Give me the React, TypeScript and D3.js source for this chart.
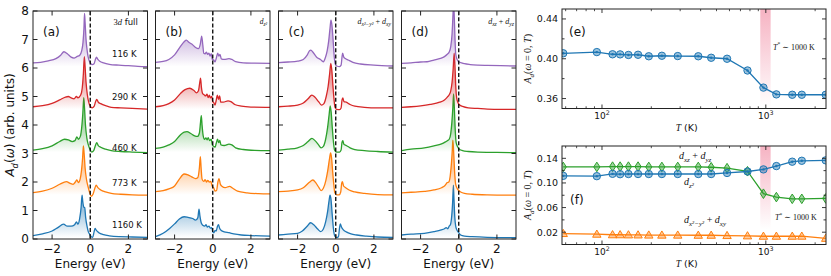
import React from 'react';
import * as d3 from 'd3';

type Pt = [number, number];

const tempLabels = ['1160 K', '773 K', '460 K', '290 K', '116 K'];
const curveColors = ['#1f77b4', '#ff7f0e', '#2ca02c', '#d62728', '#9467bd'];
const curveOffsets = [0, 1.5, 3, 4.5, 6];
const energyTicks = [-2, 0, 2];
const intensityTicks = [0, 1, 2, 3, 4, 5, 6, 7, 8];

// (a) 3d full
const full1160: Pt[] = [[-3, 0.12], [-2.5, 0.18], [-2.0, 0.28], [-1.7, 0.4], [-1.4, 0.52], [-1.2, 0.45], [-1.0, 0.45], [-0.82, 0.5], [-0.72, 0.6], [-0.65, 0.52], [-0.56, 0.7], [-0.48, 1.1], [-0.43, 1.54], [-0.39, 1.3], [-0.34, 1.12], [-0.29, 1.1], [-0.24, 0.75], [-0.17, 0.45], [-0.1, 0.25], [-0.04, 0.18], [0.05, 0.08], [0.13, 0.06], [0.2, 0.25], [0.25, 0.37], [0.32, 0.3], [0.45, 0.22], [0.7, 0.15], [1.0, 0.11], [1.5, 0.08], [2.2, 0.07], [3.0, 0.06]];
const full773: Pt[] = [[-3, 0.13], [-2.5, 0.18], [-2.0, 0.28], [-1.6, 0.42], [-1.25, 0.51], [-1.05, 0.45], [-0.9, 0.42], [-0.78, 0.5], [-0.7, 0.57], [-0.62, 0.48], [-0.53, 0.6], [-0.46, 0.9], [-0.4, 1.35], [-0.36, 1.77], [-0.32, 1.5], [-0.27, 1.0], [-0.2, 0.6], [-0.12, 0.35], [-0.04, 0.15], [0.05, 0.0], [0.15, 0.08], [0.25, 0.3], [0.31, 0.39], [0.4, 0.3], [0.55, 0.22], [0.8, 0.15], [1.1, 0.1], [1.6, 0.07], [2.2, 0.05], [3.0, 0.04]];
const full460: Pt[] = [[-3, 0.12], [-2.5, 0.17], [-2.0, 0.27], [-1.6, 0.42], [-1.35, 0.5], [-1.15, 0.48], [-0.95, 0.42], [-0.8, 0.45], [-0.7, 0.58], [-0.62, 0.5], [-0.52, 0.6], [-0.45, 0.9], [-0.39, 1.4], [-0.34, 1.96], [-0.3, 1.6], [-0.25, 1.0], [-0.18, 0.55], [-0.1, 0.3], [-0.02, 0.15], [0.08, 0.05], [0.18, 0.1], [0.28, 0.3], [0.34, 0.38], [0.42, 0.28], [0.55, 0.22], [0.8, 0.15], [1.1, 0.1], [1.6, 0.07], [2.2, 0.05], [3.0, 0.03]];
const full290: Pt[] = [[-3, 0.14], [-2.5, 0.18], [-2.0, 0.26], [-1.6, 0.38], [-1.3, 0.48], [-1.15, 0.5], [-1.0, 0.45], [-0.85, 0.42], [-0.72, 0.5], [-0.65, 0.45], [-0.5, 0.55], [-0.42, 0.8], [-0.36, 1.3], [-0.31, 1.9], [-0.27, 1.55], [-0.22, 1.0], [-0.15, 0.55], [-0.08, 0.3], [0.0, 0.15], [0.1, 0.1], [0.2, 0.15], [0.28, 0.32], [0.34, 0.4], [0.42, 0.3], [0.55, 0.25], [0.8, 0.18], [1.1, 0.12], [1.6, 0.1], [2.2, 0.08], [3.0, 0.06]];
const full116: Pt[] = [[-3, 0.18], [-2.6, 0.2], [-2.2, 0.25], [-1.8, 0.33], [-1.55, 0.45], [-1.38, 0.57], [-1.2, 0.5], [-1.0, 0.38], [-0.85, 0.35], [-0.7, 0.4], [-0.55, 0.45], [-0.45, 0.6], [-0.38, 0.9], [-0.33, 1.4], [-0.3, 1.92], [-0.27, 1.6], [-0.22, 1.0], [-0.15, 0.55], [-0.08, 0.3], [0.0, 0.18], [0.1, 0.12], [0.2, 0.15], [0.27, 0.3], [0.33, 0.38], [0.4, 0.3], [0.5, 0.24], [0.7, 0.18], [1.0, 0.13], [1.5, 0.1], [2.0, 0.08], [2.5, 0.06], [3.0, 0.05]];

// (b) d_z2
const z2_1160: Pt[] = [[-3, 0.08], [-2.6, 0.2], [-2.26, 0.37], [-2.0, 0.53], [-1.75, 0.7], [-1.5, 0.78], [-1.3, 0.76], [-1.05, 0.72], [-0.9, 0.66], [-0.78, 0.75], [-0.72, 1.05], [-0.67, 0.8], [-0.6, 0.56], [-0.52, 0.48], [-0.42, 0.45], [-0.35, 0.5], [-0.28, 0.42], [-0.2, 0.45], [-0.12, 0.38], [-0.05, 0.4], [0.0, 0.25], [0.06, 0.22], [0.12, 0.3], [0.18, 0.28], [0.25, 0.45], [0.3, 0.5], [0.36, 0.38], [0.45, 0.3], [0.6, 0.25], [0.85, 0.22], [1.1, 0.18], [1.5, 0.14], [2.0, 0.12], [3.0, 0.1]];
const z2_773: Pt[] = [[-3, 0.16], [-2.6, 0.2], [-2.3, 0.26], [-2.0, 0.36], [-1.75, 0.6], [-1.5, 0.78], [-1.3, 0.75], [-1.1, 0.68], [-0.9, 0.62], [-0.78, 0.66], [-0.7, 1.0], [-0.65, 1.39], [-0.61, 1.0], [-0.56, 0.6], [-0.48, 0.52], [-0.4, 0.58], [-0.33, 0.5], [-0.26, 0.56], [-0.18, 0.5], [-0.1, 0.52], [-0.03, 0.35], [0.05, 0.3], [0.12, 0.18], [0.2, 0.2], [0.27, 0.5], [0.33, 0.62], [0.4, 0.42], [0.48, 0.35], [0.65, 0.3], [0.88, 0.35], [1.05, 0.28], [1.3, 0.18], [1.8, 0.12], [2.4, 0.09], [3.0, 0.08]];
const z2_460: Pt[] = [[-3, 0.18], [-2.6, 0.22], [-2.3, 0.3], [-2.0, 0.42], [-1.7, 0.65], [-1.5, 0.75], [-1.35, 0.77], [-1.15, 0.7], [-0.95, 0.62], [-0.8, 0.6], [-0.7, 0.72], [-0.64, 1.1], [-0.6, 1.33], [-0.56, 1.0], [-0.5, 0.62], [-0.43, 0.5], [-0.36, 0.55], [-0.3, 0.48], [-0.24, 0.56], [-0.16, 0.45], [-0.08, 0.5], [-0.02, 0.3], [0.05, 0.25], [0.12, 0.22], [0.18, 0.35], [0.25, 0.5], [0.31, 0.38], [0.37, 0.46], [0.43, 0.3], [0.6, 0.28], [0.85, 0.33], [1.0, 0.3], [1.2, 0.2], [1.6, 0.14], [2.2, 0.11], [3.0, 0.1]];
const z2_290: Pt[] = [[-3, 0.14], [-2.6, 0.18], [-2.3, 0.25], [-2.0, 0.38], [-1.7, 0.6], [-1.45, 0.74], [-1.2, 0.79], [-1.0, 0.72], [-0.85, 0.63], [-0.75, 0.7], [-0.68, 1.0], [-0.64, 1.14], [-0.59, 0.8], [-0.53, 0.6], [-0.45, 0.56], [-0.38, 0.52], [-0.3, 0.58], [-0.24, 0.46], [-0.18, 0.55], [-0.12, 0.45], [-0.05, 0.5], [0.0, 0.32], [0.06, 0.28], [0.12, 0.2], [0.18, 0.36], [0.24, 0.55], [0.3, 0.4], [0.36, 0.52], [0.42, 0.3], [0.55, 0.3], [0.8, 0.35], [0.95, 0.32], [1.15, 0.22], [1.5, 0.16], [2.0, 0.13], [3.0, 0.12]];
const z2_116: Pt[] = [[-3, 0.2], [-2.6, 0.23], [-2.3, 0.3], [-2.0, 0.46], [-1.7, 0.75], [-1.5, 0.92], [-1.38, 0.98], [-1.25, 0.9], [-1.1, 0.84], [-0.9, 0.72], [-0.75, 0.68], [-0.65, 0.85], [-0.58, 1.12], [-0.52, 0.8], [-0.47, 0.52], [-0.4, 0.5], [-0.33, 0.56], [-0.27, 0.48], [-0.2, 0.52], [-0.14, 0.42], [-0.08, 0.5], [-0.02, 0.3], [0.05, 0.28], [0.12, 0.22], [0.2, 0.38], [0.26, 0.52], [0.32, 0.42], [0.38, 0.48], [0.45, 0.32], [0.6, 0.3], [0.85, 0.33], [1.0, 0.3], [1.2, 0.22], [1.6, 0.18], [2.2, 0.17], [3.0, 0.16]];

// (c) d_x2-y2 + d_xy
const xy1160: Pt[] = [[-3, 0.14], [-2.5, 0.17], [-2.0, 0.2], [-1.75, 0.28], [-1.5, 0.45], [-1.32, 0.57], [-1.15, 0.5], [-0.95, 0.35], [-0.78, 0.26], [-0.65, 0.35], [-0.53, 0.6], [-0.43, 0.95], [-0.35, 1.35], [-0.3, 1.54], [-0.25, 1.4], [-0.19, 0.9], [-0.12, 0.35], [-0.05, 0.1], [0.05, 0.05], [0.14, 0.08], [0.2, 0.4], [0.24, 0.53], [0.3, 0.42], [0.4, 0.32], [0.55, 0.25], [0.8, 0.18], [1.1, 0.14], [1.6, 0.1], [2.2, 0.07], [3.0, 0.06]];
const xy773: Pt[] = [[-3, 0.16], [-2.5, 0.18], [-2.0, 0.22], [-1.7, 0.3], [-1.4, 0.48], [-1.2, 0.57], [-1.05, 0.48], [-0.88, 0.3], [-0.77, 0.2], [-0.65, 0.28], [-0.52, 0.55], [-0.42, 0.9], [-0.33, 1.3], [-0.27, 1.52], [-0.22, 1.35], [-0.16, 0.85], [-0.1, 0.4], [-0.05, 0.12], [0.05, 0.05], [0.18, 0.05], [0.26, 0.15], [0.31, 0.45], [0.35, 0.51], [0.41, 0.36], [0.52, 0.3], [0.7, 0.22], [1.0, 0.15], [1.5, 0.1], [2.2, 0.06], [3.0, 0.05]];
const xy460: Pt[] = [[-3, 0.12], [-2.5, 0.15], [-2.0, 0.2], [-1.7, 0.28], [-1.45, 0.42], [-1.25, 0.53], [-1.1, 0.46], [-0.9, 0.3], [-0.77, 0.2], [-0.65, 0.25], [-0.53, 0.5], [-0.43, 0.9], [-0.35, 1.35], [-0.29, 1.67], [-0.24, 1.45], [-0.18, 0.9], [-0.12, 0.4], [-0.06, 0.12], [0.05, 0.05], [0.2, 0.05], [0.28, 0.12], [0.33, 0.4], [0.37, 0.45], [0.43, 0.32], [0.55, 0.28], [0.75, 0.2], [1.0, 0.14], [1.5, 0.1], [2.2, 0.07], [3.0, 0.05]];
const xy290: Pt[] = [[-3, 0.14], [-2.5, 0.16], [-2.0, 0.2], [-1.7, 0.27], [-1.45, 0.42], [-1.25, 0.55], [-1.1, 0.48], [-0.9, 0.32], [-0.75, 0.2], [-0.62, 0.25], [-0.5, 0.5], [-0.4, 0.85], [-0.32, 1.3], [-0.26, 1.66], [-0.21, 1.45], [-0.15, 0.9], [-0.09, 0.4], [-0.04, 0.12], [0.05, 0.05], [0.2, 0.04], [0.28, 0.1], [0.33, 0.38], [0.37, 0.45], [0.43, 0.32], [0.55, 0.3], [0.75, 0.22], [1.0, 0.16], [1.5, 0.12], [2.2, 0.1], [3.0, 0.1]];
const xy116: Pt[] = [[-3, 0.19], [-2.5, 0.21], [-2.0, 0.24], [-1.7, 0.3], [-1.5, 0.45], [-1.38, 0.6], [-1.3, 0.63], [-1.2, 0.56], [-1.0, 0.38], [-0.8, 0.3], [-0.65, 0.22], [-0.55, 0.35], [-0.45, 0.6], [-0.37, 0.95], [-0.3, 1.4], [-0.25, 1.68], [-0.2, 1.5], [-0.14, 1.0], [-0.08, 0.4], [-0.03, 0.15], [0.05, 0.07], [0.2, 0.05], [0.28, 0.1], [0.33, 0.4], [0.36, 0.52], [0.42, 0.38], [0.5, 0.33], [0.65, 0.28], [0.9, 0.2], [1.3, 0.14], [2.0, 0.1], [3.0, 0.07]];

// (d) d_xz + d_yz
const xz1160: Pt[] = [[-3, 0.14], [-2.5, 0.17], [-1.8, 0.2], [-1.3, 0.26], [-0.92, 0.32], [-0.75, 0.36], [-0.66, 0.4], [-0.58, 0.36], [-0.5, 0.45], [-0.43, 0.52], [-0.37, 0.8], [-0.32, 1.3], [-0.28, 1.89], [-0.25, 1.4], [-0.21, 0.8], [-0.16, 0.45], [-0.1, 0.32], [0.0, 0.22], [0.1, 0.14], [0.3, 0.1], [0.7, 0.08], [1.5, 0.06], [3.0, 0.05]];
const xz773: Pt[] = [[-3, 0.12], [-2.5, 0.14], [-1.8, 0.17], [-1.3, 0.22], [-0.9, 0.3], [-0.72, 0.38], [-0.6, 0.48], [-0.52, 0.5], [-0.45, 0.7], [-0.39, 1.1], [-0.34, 1.6], [-0.31, 1.97], [-0.27, 1.6], [-0.22, 0.9], [-0.17, 0.45], [-0.1, 0.3], [0.0, 0.2], [0.1, 0.15], [0.3, 0.1], [0.7, 0.07], [1.5, 0.05], [3.0, 0.04]];
const xz460: Pt[] = [[-3, 0.1], [-2.5, 0.15], [-1.8, 0.2], [-1.3, 0.27], [-0.9, 0.34], [-0.72, 0.4], [-0.6, 0.45], [-0.5, 0.5], [-0.42, 0.7], [-0.36, 1.1], [-0.31, 1.6], [-0.27, 2.09], [-0.23, 1.6], [-0.19, 0.9], [-0.14, 0.4], [-0.07, 0.25], [0.05, 0.14], [0.2, 0.1], [0.5, 0.07], [1.0, 0.05], [2.0, 0.04], [3.0, 0.03]];
const xz290: Pt[] = [[-3, 0.12], [-2.5, 0.14], [-2.0, 0.17], [-1.5, 0.22], [-1.0, 0.3], [-0.75, 0.38], [-0.6, 0.48], [-0.5, 0.56], [-0.42, 0.7], [-0.35, 1.0], [-0.29, 1.5], [-0.24, 2.02], [-0.2, 1.6], [-0.16, 0.9], [-0.11, 0.45], [-0.05, 0.3], [0.05, 0.2], [0.2, 0.15], [0.5, 0.1], [1.0, 0.08], [1.5, 0.06], [2.2, 0.05], [3.0, 0.05]];
const xz116: Pt[] = [[-3, 0.16], [-2.5, 0.18], [-2.0, 0.21], [-1.66, 0.22], [-1.3, 0.28], [-0.96, 0.34], [-0.75, 0.4], [-0.6, 0.48], [-0.5, 0.56], [-0.42, 0.75], [-0.35, 1.2], [-0.3, 1.9], [-0.27, 2.3], [-0.24, 1.9], [-0.2, 1.1], [-0.16, 0.5], [-0.1, 0.32], [0.0, 0.22], [0.15, 0.18], [0.3, 0.15], [0.6, 0.12], [1.0, 0.1], [1.5, 0.09], [2.2, 0.08], [3.0, 0.07]];

// (e), (f) temperature dependence of A_d(w=0, T)
const tempsK = [58, 93, 116, 129, 145, 166, 193, 232, 290, 387, 464, 580, 773, 967, 1160, 1450, 1658, 2321];
const totalW0 = [0.4055, 0.4067, 0.4045, 0.4044, 0.4038, 0.404, 0.4025, 0.403, 0.4027, 0.4025, 0.401, 0.4, 0.3882, 0.371, 0.3642, 0.3638, 0.3638, 0.3638];
const z2W0 = [0.1115, 0.111, 0.1148, 0.1142, 0.1145, 0.1145, 0.1145, 0.1145, 0.1145, 0.1145, 0.1145, 0.1162, 0.1186, 0.122, 0.1274, 0.1345, 0.136, 0.1367];
const xzW0 = [0.126, 0.126, 0.1265, 0.1265, 0.1265, 0.1265, 0.126, 0.126, 0.126, 0.126, 0.1255, 0.124, 0.119, 0.0825, 0.077, 0.0742, 0.0742, 0.0748];
const xyW0 = [0.0178, 0.0167, 0.0158, 0.0158, 0.0156, 0.0155, 0.0153, 0.0152, 0.0152, 0.015, 0.015, 0.0145, 0.014, 0.0134, 0.0134, 0.0134, 0.0135, 0.01];
const crossoverBand = [925, 1070];
const eTicks = [0.36, 0.38, 0.4, 0.42, 0.44];
const fTicks = [0.02, 0.04, 0.06, 0.08, 0.1, 0.12, 0.14];

const SANS = 'DejaVu Sans, sans-serif';
const SERIF = 'Liberation Serif, DejaVu Serif, serif';
const INK = '#222';

type Seg = { t: string; it?: boolean; sub?: boolean; sup?: boolean; serif?: boolean };

function Rich({ segs, size, ...rest }: any) {
  let shift = 0;
  const parts = segs.map((s: Seg, i: number) => {
    const target = s.sub ? size * 0.3 : s.sup ? -size * 0.4 : 0;
    const dy = target - shift;
    shift = target;
    return (
      <tspan key={i} dy={dy} fontSize={s.sub || s.sup ? size * 0.7 : size}
        fontStyle={s.it ? 'italic' : 'normal'} fontFamily={s.serif ? SERIF : undefined}>{s.t}</tspan>
    );
  });
  return <text fontSize={size} fontFamily={SANS} fill="#111" {...rest}>{parts}</text>;
}

const SX = [33, 155.5, 278.5, 401.5];
const SW = 114.5;
const ST = 11;
const SB = 239;

const panels = [
  { tag: 'a', curves: [full1160, full773, full460, full290, full116] },
  { tag: 'b', curves: [z2_1160, z2_773, z2_460, z2_290, z2_116] },
  { tag: 'c', curves: [xy1160, xy773, xy460, xy290, xy116] },
  { tag: 'd', curves: [xz1160, xz773, xz460, xz290, xz116] },
];
const tempLabelY = [0.49, 1.98, 3.2, 4.99, 6.48];

function SpecPanel({ i, tag, curves }: { i: number; tag: string; curves: Pt[][] }) {
  const left = SX[i];
  const x = d3.scaleLinear().domain([-3, 3]).range([left, left + SW]);
  const y = d3.scaleLinear().domain([0, 8]).range([SB, ST]);
  const clip = `clip-${tag}`;
  const titles: Record<string, any> = {
    a: <Rich x={x(3) - 34} y={25} size={8.5} segs={[{ t: '3', serif: true }, { t: 'd', it: true, serif: true }, { t: ' full' }]} />,
    b: <Rich x={x(3) - 3} y={24} size={7.5} textAnchor="end" segs={[{ t: 'd', it: true, serif: true }, { t: 'z²', it: true, sub: true, serif: true }]} />,
    c: <Rich x={x(3) - 2} y={24} size={8} textAnchor="end" segs={[{ t: 'd', it: true, serif: true }, { t: 'x²−y²', it: true, sub: true, serif: true }, { t: ' + ', serif: true }, { t: 'd', it: true, serif: true }, { t: 'xy', it: true, sub: true, serif: true }]} />,
    d: <Rich x={x(3) - 2} y={24} size={8} textAnchor="end" segs={[{ t: 'd', it: true, serif: true }, { t: 'xz', it: true, sub: true, serif: true }, { t: ' + ', serif: true }, { t: 'd', it: true, serif: true }, { t: 'yz', it: true, sub: true, serif: true }]} />,
  };
  return (
    <g>
      <defs>
        <clipPath id={clip}><rect x={left} y={ST} width={SW} height={SB - ST} /></clipPath>
        {curves.map((_, k) => (
          <linearGradient key={k} id={`grad-${tag}-${k}`} gradientUnits="userSpaceOnUse" x1={0} x2={0}
            y1={y(curveOffsets[k] + 1.0)} y2={y(curveOffsets[k] + 0.05)}>
            <stop offset="0" stopColor={curveColors[k]} stopOpacity={0.42} />
            <stop offset="1" stopColor={curveColors[k]} stopOpacity={0} />
          </linearGradient>
        ))}
      </defs>
      <g clipPath={`url(#${clip})`}>
        {curves.map((pts, k) => {
          const off = curveOffsets[k];
          const area = d3.area<Pt>().x(d => x(d[0])).y0(y(off)).y1(d => y(d[1] + off)).curve(d3.curveMonotoneX);
          const line = d3.line<Pt>().x(d => x(d[0])).y(d => y(d[1] + off)).curve(d3.curveMonotoneX);
          return (
            <g key={k}>
              <path d={area(pts) || ''} fill={`url(#grad-${tag}-${k})`} />
              <path d={line(pts) || ''} fill="none" stroke={curveColors[k]} strokeWidth={1.3} />
            </g>
          );
        })}
        <line x1={x(0)} x2={x(0)} y1={ST} y2={SB} stroke="#000" strokeWidth={1.3} strokeDasharray="4,2.2" />
      </g>
      {intensityTicks.map(t => (
        <g key={t}>
          <line x1={left} x2={left + 4.5} y1={y(t)} y2={y(t)} stroke={INK} strokeWidth={1} />
          <line x1={left + SW - 4.5} x2={left + SW} y1={y(t)} y2={y(t)} stroke={INK} strokeWidth={1} />
          {i === 0 && <text x={left - 4} y={y(t)} dy="0.36em" textAnchor="end" fontSize={12} fontFamily={SANS} fill="#111">{t}</text>}
        </g>
      ))}
      {energyTicks.map(t => (
        <g key={t}>
          <line x1={x(t)} x2={x(t)} y1={SB} y2={SB - 4.5} stroke={INK} strokeWidth={1} />
          <line x1={x(t)} x2={x(t)} y1={ST} y2={ST + 4.5} stroke={INK} strokeWidth={1} />
          <text x={x(t)} y={253} textAnchor="middle" fontSize={12} fontFamily={SANS} fill="#111">{t < 0 ? `−${-t}` : t}</text>
        </g>
      ))}
      <rect x={left} y={ST} width={SW} height={SB - ST} fill="none" stroke={INK} strokeWidth={1} />
      <text x={(left + left + SW) / 2} y={268} textAnchor="middle" fontSize={12} fontFamily={SANS} fill="#111">Energy (eV)</text>
      <text x={left + 10} y={36} fontSize={12} fontFamily={SANS} fill="#111">({tag})</text>
      {titles[tag]}
      {i === 0 && tempLabels.map((lab, k) => (
        <text key={lab} x={left + 79} y={y(tempLabelY[k])} dy="0.36em" fontSize={8.5} fontFamily={SANS} fill="#111">{lab}</text>
      ))}
    </g>
  );
}

const TX0 = 562;
const TX1 = 826;

function Marker({ kind, cx, cy, color }: { kind: string; cx: number; cy: number; color: string }) {
  if (kind === 'd') {
    return <path d={`M${cx},${cy - 4.8}L${cx + 3.1},${cy}L${cx},${cy + 4.8}L${cx - 3.1},${cy}Z`} fill={color} fillOpacity={0.45} stroke={color} strokeWidth={1} />;
  }
  if (kind === '^') {
    return <path d={`M${cx},${cy - 4.2}L${cx + 4.2},${cy + 3}L${cx - 4.2},${cy + 3}Z`} fill={color} fillOpacity={0.4} stroke={color} strokeWidth={1} />;
  }
  return (
    <g>
      <circle cx={cx} cy={cy} r={3.7} fill={color} fillOpacity={0.45} stroke={color} strokeWidth={1} />
      <circle cx={cx} cy={cy} r={1.2} fill={color} />
    </g>
  );
}

function TPanel({ tag, top, bottom, domain, ticks, labeled, series }: any) {
  const x = d3.scaleLog().domain([57, 2330]).range([TX0, TX1]);
  const y = d3.scaleLinear().domain(domain).range([bottom, top]);
  const clip = `clip-${tag}`;
  const minor = x.ticks().filter(t => t !== 100 && t !== 1000);
  const fmt = (v: number) => v.toFixed(2);
  return (
    <g>
      <defs>
        <clipPath id={clip}><rect x={TX0} y={top} width={TX1 - TX0} height={bottom - top} /></clipPath>
        <linearGradient id={`band-${tag}`} x1={0} x2={0} y1={0} y2={1}>
          <stop offset="0" stopColor="#f0809a" stopOpacity={0.6} />
          <stop offset={tag === 'f' ? 0.85 : 1} stopColor="#f0809a" stopOpacity={0} />
        </linearGradient>
      </defs>
      <rect x={x(crossoverBand[0])} y={top} width={x(crossoverBand[1]) - x(crossoverBand[0])} height={bottom - top} fill={`url(#band-${tag})`} />
      <g clipPath={`url(#${clip})`}>
        {series.map((s: any, k: number) => {
          const line = d3.line<number>().x((_, j) => x(tempsK[j])).y(v => y(v));
          return (
            <g key={k}>
              <path d={line(s.values) || ''} fill="none" stroke={s.color} strokeWidth={1.3} />
              {s.values.map((v: number, j: number) => (
                <Marker key={j} kind={s.kind} cx={x(tempsK[j])} cy={y(v)} color={s.color} />
              ))}
            </g>
          );
        })}
      </g>
      {ticks.map((t: number) => {
        const big = labeled.includes(t);
        const len = big ? 4 : 2.5;
        return (
          <g key={t}>
            <line x1={TX0} x2={TX0 + len} y1={y(t)} y2={y(t)} stroke={INK} strokeWidth={0.9} />
            <line x1={TX1 - len} x2={TX1} y1={y(t)} y2={y(t)} stroke={INK} strokeWidth={0.9} />
            {big && <text x={TX0 - 4} y={y(t)} dy="0.36em" textAnchor="end" fontSize={9.5} fontFamily={SANS} fill="#111">{fmt(t)}</text>}
          </g>
        );
      })}
      {[100, 1000].map(t => (
        <g key={t}>
          <line x1={x(t)} x2={x(t)} y1={bottom} y2={bottom - 4} stroke={INK} strokeWidth={0.9} />
          <line x1={x(t)} x2={x(t)} y1={top} y2={top + 4} stroke={INK} strokeWidth={0.9} />
          <Rich x={x(t)} y={bottom + 10} size={9} textAnchor="middle" segs={[{ t: '10' }, { t: t === 100 ? '2' : '3', sup: true }]} />
        </g>
      ))}
      {minor.map(t => (
        <g key={t}>
          <line x1={x(t)} x2={x(t)} y1={bottom} y2={bottom - 2.2} stroke={INK} strokeWidth={0.8} />
          <line x1={x(t)} x2={x(t)} y1={top} y2={top + 2.2} stroke={INK} strokeWidth={0.8} />
        </g>
      ))}
      <rect x={TX0} y={top} width={TX1 - TX0} height={bottom - top} fill="none" stroke={INK} strokeWidth={1} />
      <Rich x={686.7} y={bottom + 22.5} size={9.5} textAnchor="middle" segs={[{ t: 'T', it: true, serif: true }, { t: ' (K)' }]} />
      <g transform={`translate(531,${(top + bottom) / 2}) rotate(-90)`}>
        <Rich x={0} y={0} size={10} textAnchor="middle" segs={[{ t: 'A', it: true, serif: true }, { t: 'd', it: true, sub: true, serif: true }, { t: '(', serif: true }, { t: 'ω', it: true, serif: true }, { t: ' = 0, ', serif: true }, { t: 'T', it: true, serif: true }, { t: ')', serif: true }]} />
      </g>
      <text x={tag === 'e' ? 569 : 570} y={tag === 'e' ? 36 : 203.5} fontSize={12} fontFamily={SANS} fill="#111">({tag})</text>
    </g>
  );
}

export default function App() {
  return (
    <svg width={831} height={276} style={{ display: 'block', position: 'absolute', left: 0, top: 0, background: '#fff' }}>
      {panels.map((p, i) => <SpecPanel key={p.tag} i={i} tag={p.tag} curves={p.curves} />)}
      <g transform="translate(14,125) rotate(-90)">
        <Rich x={0} y={0} size={12} textAnchor="middle" segs={[{ t: 'A', it: true }, { t: 'd', it: true, sub: true }, { t: '(' }, { t: 'ω', it: true }, { t: ') (arb. units)' }]} />
      </g>
      <TPanel tag="e" top={9} bottom={108.5} domain={[0.35, 0.45]} ticks={eTicks} labeled={[0.36, 0.4, 0.44]}
        series={[{ values: totalW0, color: curveColors[0], kind: 'o' }]} />
      <TPanel tag="f" top={146} bottom={244.5} domain={[0, 0.16]} ticks={fTicks} labeled={[0.02, 0.06, 0.1, 0.14]}
        series={[
          { values: xyW0, color: curveColors[1], kind: '^' },
          { values: xzW0, color: curveColors[2], kind: 'd' },
          { values: z2W0, color: curveColors[0], kind: 'o' },
        ]} />
      <Rich x={773} y={49.5} size={8} segs={[{ t: 'T', it: true, serif: true }, { t: '*', sup: true, serif: true }, { t: ' ∼ 1000 K', serif: true }]} />
      <Rich x={775} y={220} size={8} segs={[{ t: 'T', it: true, serif: true }, { t: '*', sup: true, serif: true }, { t: ' ∼ 1000 K', serif: true }]} />
      <Rich x={679} y={159} size={10} segs={[{ t: 'd', it: true, serif: true }, { t: 'xz', it: true, sub: true, serif: true }, { t: ' + ', serif: true }, { t: 'd', it: true, serif: true }, { t: 'yz', it: true, sub: true, serif: true }]} />
      <Rich x={684} y={185} size={10} segs={[{ t: 'd', it: true, serif: true }, { t: 'z²', it: true, sub: true, serif: true }]} />
      <Rich x={684} y={223} size={10} segs={[{ t: 'd', it: true, serif: true }, { t: 'x²−y²', it: true, sub: true, serif: true }, { t: ' + ', serif: true }, { t: 'd', it: true, serif: true }, { t: 'xy', it: true, sub: true, serif: true }]} />
    </svg>
  );
}
